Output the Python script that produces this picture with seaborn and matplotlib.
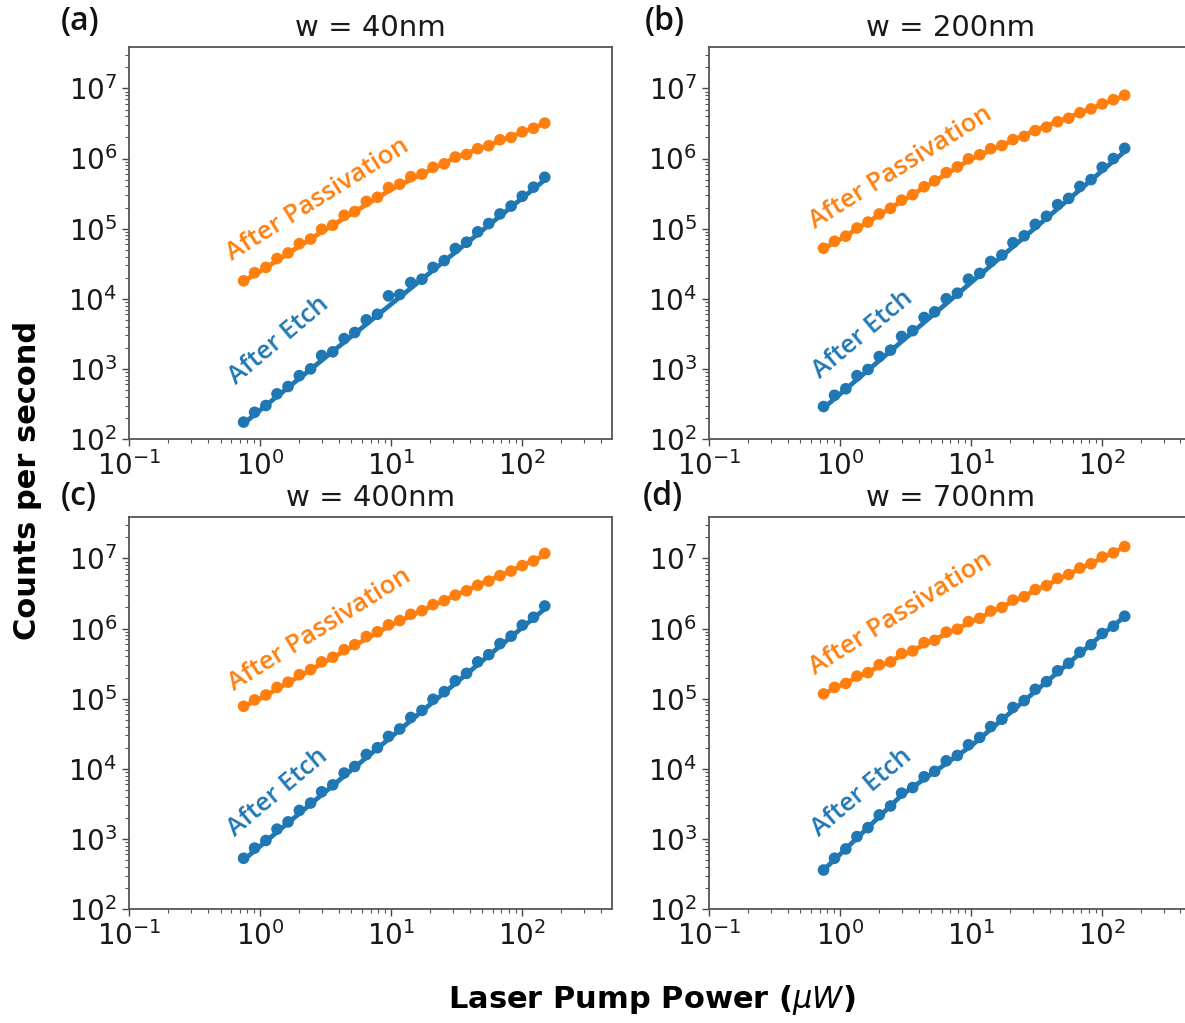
import matplotlib
matplotlib.use("Agg")
import matplotlib.pyplot as plt
import seaborn as sns
import pandas as pd

# ---------------- data ----------------
power_uW = [0.75, 0.91, 1.11, 1.35, 1.64, 2.0, 2.44, 2.96, 3.6, 4.4, 5.3, 6.5, 7.9, 9.6,
            11.7, 14.2, 17.3, 21, 25.6, 31.1, 37.9, 46.1, 56, 68.2, 83, 101, 123, 150]

panel_tags = ["(a)", "(b)", "(c)", "(d)"]
panel_titles = ["w = 40nm", "w = 200nm", "w = 400nm", "w = 700nm"]

pass_a = [1.80e4, 2.35e4, 2.80e4, 3.75e4, 4.50e4, 6.1e4, 7.1e4, 9.8e4, 1.12e5, 1.55e5, 1.75e5, 2.45e5, 2.80e5, 3.85e5,
          4.30e5, 5.5e5, 6.0e5, 7.5e5, 8.4e5, 1.05e6, 1.14e6, 1.38e6, 1.52e6, 1.85e6, 2.0e6, 2.4e6, 2.7e6, 3.2e6]
etch_a = [174, 240, 300, 440, 560, 800, 1000, 1550, 1750, 2700, 3300, 5000, 6000, 1.1e4,
          1.15e4, 1.7e4, 1.9e4, 2.8e4, 3.5e4, 5.2e4, 6.4e4, 9.0e4, 1.18e5, 1.62e5, 2.1e5, 2.9e5, 3.9e5, 5.4e5]
pass_b = [5.25e4, 6.6e4, 7.8e4, 1.02e5, 1.24e5, 1.62e5, 1.95e5, 2.55e5, 3.05e5, 3.95e5, 4.8e5, 6.3e5, 7.6e5, 9.9e5,
          1.13e6, 1.38e6, 1.53e6, 1.86e6, 2.07e6, 2.5e6, 2.8e6, 3.35e6, 3.75e6, 4.5e6, 5.1e6, 6.0e6, 6.9e6, 8.0e6]
etch_b = [290, 420, 520, 800, 980, 1500, 1850, 2900, 3500, 5400, 6500, 1.0e4, 1.2e4, 1.9e4,
          2.3e4, 3.4e4, 4.2e4, 6.3e4, 7.9e4, 1.15e5, 1.5e5, 2.2e5, 2.7e5, 4.0e5, 5.0e5, 7.5e5, 1.0e6, 1.4e6]
pass_c = [7.8e4, 9.6e4, 1.13e5, 1.45e5, 1.72e5, 2.2e5, 2.6e5, 3.35e5, 3.9e5, 5.0e5, 5.9e5, 7.7e5, 9.0e5, 1.13e6,
          1.3e6, 1.6e6, 1.8e6, 2.2e6, 2.5e6, 3.0e6, 3.45e6, 4.15e6, 4.75e6, 5.7e6, 6.6e6, 7.9e6, 9.2e6, 1.18e7]
etch_c = [530, 740, 950, 1380, 1750, 2550, 3250, 4700, 5900, 8700, 1.08e4, 1.6e4, 2.0e4, 2.9e4,
          3.7e4, 5.4e4, 6.8e4, 9.8e4, 1.26e5, 1.8e5, 2.3e5, 3.35e5, 4.25e5, 6.1e5, 7.8e5, 1.12e6, 1.45e6, 2.1e6]
pass_d = [1.17e5, 1.45e5, 1.65e5, 2.1e5, 2.35e5, 3.05e5, 3.35e5, 4.4e5, 4.8e5, 6.3e5, 6.8e5, 8.9e5, 9.8e5, 1.26e6,
          1.4e6, 1.78e6, 2.0e6, 2.55e6, 2.85e6, 3.6e6, 4.1e6, 5.2e6, 5.9e6, 7.3e6, 8.4e6, 1.05e7, 1.2e7, 1.48e7]
etch_d = [360, 530, 720, 1080, 1450, 2200, 2950, 4500, 5400, 7700, 9200, 1.3e4, 1.55e4, 2.2e4,
          2.8e4, 4.0e4, 5.1e4, 7.5e4, 9.4e4, 1.36e5, 1.75e5, 2.5e5, 3.2e5, 4.6e5, 5.9e5, 8.5e5, 1.08e6, 1.5e6]

# fitted trend lines
fit_x = [0.75, 1, 3, 10, 30, 100, 150]
fit_pass_a = [1.78e4, 2.45e4, 9.1e4, 3.6e5, 1.0e6, 2.34e6, 3.16e6]
fit_etch_a = [165, 257, 1345, 8300, 4.36e4, 2.69e5, 4.95e5]
fit_pass_b = [5.2e4, 7.0e4, 2.5e5, 9.8e5, 2.45e6, 5.9e6, 7.9e6]
fit_etch_b = [275, 435, 2500, 1.69e4, 9.7e4, 6.6e5, 1.26e6]
fit_pass_c = [7.7e4, 1.0e5, 3.2e5, 1.12e6, 2.9e6, 7.8e6, 1.12e7]
fit_etch_c = [500, 784, 4340, 2.82e4, 1.56e5, 1.02e6, 1.91e6]
fit_pass_d = [1.17e5, 1.53e5, 4.15e5, 1.24e6, 3.37e6, 1.01e7, 1.46e7]
fit_etch_d = [360, 600, 4300, 2.1e4, 1.2e5, 8.1e5, 1.48e6]

# label anchor positions (data coordinates)
pass_label_xy = [(0.615, 3.4e4), (0.64, 9.8e4), (0.63, 1.3e5), (0.64, 2.2e5)]
etch_label_xy = [(0.66, 590), (0.71, 725), (0.65, 1070), (0.69, 1070)]

pass_series = [pass_a, pass_b, pass_c, pass_d]
etch_series = [etch_a, etch_b, etch_c, etch_d]
pass_fits = [fit_pass_a, fit_pass_b, fit_pass_c, fit_pass_d]
etch_fits = [fit_etch_a, fit_etch_b, fit_etch_c, fit_etch_d]

# ---------------- style ----------------
sns.set_theme(style="ticks")
plt.rcParams["font.family"] = ["DejaVu Sans"]
plt.rcParams["mathtext.fontset"] = "dejavusans"

C_PASS = "#ff7f0e"
C_ETCH = "#1f77b4"
LABEL_FONT = ["Open Sans", "Noto Sans", "DejaVu Sans"]

fig = plt.figure(figsize=(11.85, 10.23), dpi=100)

W, H = 0.4076, 0.3832
positions = [(0.1089, 0.5709), (0.5983, 0.5709), (0.1089, 0.1114), (0.5983, 0.1114)]
tag_pos = [(0.051, 0.979), (0.544, 0.979), (0.051, 0.515), (0.542, 0.515)]

for i in range(4):
    ax = fig.add_axes([positions[i][0], positions[i][1], W, H])
    ax.set_xscale("log")
    ax.set_yscale("log")

    dfp = pd.DataFrame({"x": power_uW, "y": pass_series[i]})
    dfe = pd.DataFrame({"x": power_uW, "y": etch_series[i]})
    dfpf = pd.DataFrame({"x": fit_x, "y": pass_fits[i]})
    dfef = pd.DataFrame({"x": fit_x, "y": etch_fits[i]})

    sns.scatterplot(data=dfp, x="x", y="y", ax=ax, color=C_PASS, s=70,
                    edgecolor="none", zorder=3)
    sns.scatterplot(data=dfe, x="x", y="y", ax=ax, color=C_ETCH, s=70,
                    edgecolor="none", zorder=3)
    sns.lineplot(data=dfpf, x="x", y="y", ax=ax, color=C_PASS, lw=3.4,
                 estimator=None, sort=True, zorder=4)
    sns.lineplot(data=dfef, x="x", y="y", ax=ax, color=C_ETCH, lw=3.4,
                 estimator=None, sort=True, zorder=4)

    ax.set_xlim(0.1, 490)
    ax.set_ylim(100, 3.9e7)
    ax.set_xlabel("")
    ax.set_ylabel("")
    ax.set_title(panel_titles[i], fontsize=21, pad=8, color="#1a1a1a")
    ax.tick_params(axis="both", which="major", labelsize=20, length=5,
                   width=1.0, colors="#444444", labelcolor="#1a1a1a")
    ax.tick_params(axis="both", which="minor", length=3, width=0.8,
                   colors="#555555")
    for sp in ax.spines.values():
        sp.set_color("#555555")
        sp.set_linewidth(1.3)

    px, py = pass_label_xy[i]
    ax.text(px, py, "After Passivation", color=C_PASS, fontsize=18.5,
            family=LABEL_FONT, fontweight="semibold", rotation=32,
            rotation_mode="anchor", ha="left", va="baseline", zorder=5)
    ex, ey = etch_label_xy[i]
    ax.text(ex, ey, "After Etch", color=C_ETCH, fontsize=18.5,
            family=LABEL_FONT, fontweight="semibold", rotation=40,
            rotation_mode="anchor", ha="left", va="baseline", zorder=5)

    fig.text(tag_pos[i][0], tag_pos[i][1], panel_tags[i], fontsize=23,
             family=LABEL_FONT, fontweight="semibold", ha="left", va="center",
             color="#111111")

fig.text(0.0235, 0.530, "Counts per second", rotation=90, fontsize=22,
         fontweight="bold", ha="center", va="center", color="black")
fig.text(0.55, 0.0225, r"Laser Pump Power ($\mu W$)", fontsize=22,
         fontweight="bold", ha="center", va="center", color="black")

fig.savefig("out.png", dpi=100)
